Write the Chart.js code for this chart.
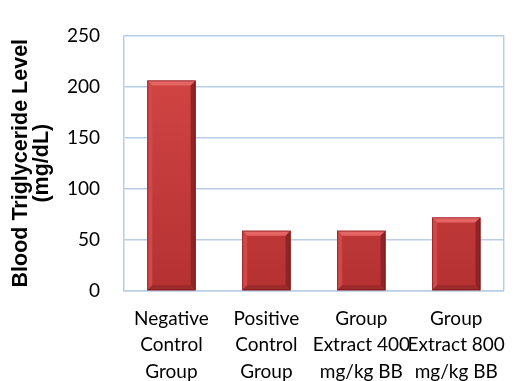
<!DOCTYPE html>
<html>
<head>
<meta charset="utf-8">
<script src="https://cdn.jsdelivr.net/npm/chart.js@4/dist/chart.umd.min.js"></script>
<style>
  html, body { margin: 0; padding: 0; background: #ffffff; }
  #wrap { width: 520px; height: 381px; }
</style>
</head>
<body>
<div id="wrap"><canvas id="c" width="520" height="381"></canvas></div>
<script>
// Triglyceride level per treatment group
const categories = [
  ["Negative", "Control", "Group"],
  ["Positive", "Control", "Group"],
  ["Group", "Extract 400", "mg/kg BB"],
  ["Group", "Extract 800", "mg/kg BB"]
];
const triglyceride = [206, 59, 59, 72];
const yTicks = [0, 50, 100, 150, 200, 250];
const yTitle = ["Blood Triglyceride Level", "(mg/dL)"];

const gridBlue = "#b9cde5";

// Bevelled bar faces drawn over each bar element
const bevelPlugin = {
  id: "bevel",
  afterDatasetsDraw(chart) {
    const ctx = chart.ctx;
    const meta = chart.getDatasetMeta(0);
    meta.data.forEach((bar) => {
      const p = bar.getProps(["x", "y", "base", "width"], true);
      const l = p.x - p.width / 2, r = p.x + p.width / 2;
      const t = p.y, b = p.base;
      const e = 5;
      ctx.save();
      // top edge
      ctx.fillStyle = "#e56565";
      ctx.beginPath();
      ctx.moveTo(l, t); ctx.lineTo(r, t); ctx.lineTo(r - e, t + e); ctx.lineTo(l + e, t + e);
      ctx.closePath(); ctx.fill();
      // left edge
      ctx.fillStyle = "#d24747";
      ctx.beginPath();
      ctx.moveTo(l, t); ctx.lineTo(l + e, t + e); ctx.lineTo(l + e, b - e); ctx.lineTo(l, b);
      ctx.closePath(); ctx.fill();
      // right edge
      ctx.fillStyle = "#8f2424";
      ctx.beginPath();
      ctx.moveTo(r, t); ctx.lineTo(r, b); ctx.lineTo(r - e, b - e); ctx.lineTo(r - e, t + e);
      ctx.closePath(); ctx.fill();
      // bottom edge
      ctx.fillStyle = "#9c2a2a";
      ctx.beginPath();
      ctx.moveTo(l, b); ctx.lineTo(l + e, b - e); ctx.lineTo(r - e, b - e); ctx.lineTo(r, b);
      ctx.closePath(); ctx.fill();
      // thin outline
      ctx.strokeStyle = "rgba(110,20,20,0.55)";
      ctx.lineWidth = 1;
      ctx.strokeRect(l + 0.5, t + 0.5, p.width - 1, b - t - 1);
      ctx.restore();
    });
  }
};

// Plot-area frame on the right side
const framePlugin = {
  id: "frame",
  beforeDatasetsDraw(chart) {
    const { ctx, chartArea: a } = chart;
    ctx.save();
    ctx.strokeStyle = gridBlue;
    ctx.lineWidth = 1.5;
    ctx.beginPath();
    ctx.moveTo(a.right, a.top);
    ctx.lineTo(a.right, a.bottom);
    ctx.stroke();
    ctx.restore();
  }
};

new Chart(document.getElementById("c"), {
  type: "bar",
  data: {
    labels: categories,
    datasets: [{
      data: triglyceride,
      backgroundColor(context) {
        const { ctx, chartArea } = context.chart;
        if (!chartArea) return "#c43b3b";
        const g = ctx.createLinearGradient(0, chartArea.top, 0, chartArea.bottom);
        g.addColorStop(0, "#d64747");
        g.addColorStop(1, "#b53232");
        return g;
      },
      borderWidth: 0,
      barPercentage: 0.51,
      categoryPercentage: 1
    }]
  },
  options: {
    responsive: false,
    animation: false,
    events: [],
    layout: { padding: { top: 24, right: 1, left: 0, bottom: 0 } },
    plugins: {
      legend: { display: false },
      tooltip: { enabled: false }
    },
    scales: {
      x: {
        grid: { display: false, drawTicks: false },
        border: { color: gridBlue, width: 1.5 },
        ticks: {
          color: "#000000",
          font: { family: "Lato", size: 19, lineHeight: 1.38 },
          padding: 15,
          maxRotation: 0,
          autoSkip: false
        },
        afterFit(scale) { scale.height = 90; }
      },
      y: {
        min: 0,
        max: 250,
        afterBuildTicks(scale) { scale.ticks = yTicks.map(v => ({ value: v })); },
        grid: { color: gridBlue, lineWidth: 1.5, drawTicks: false },
        border: { color: gridBlue, width: 1.5 },
        ticks: {
          color: "#000000",
          font: { family: "Lato", size: 19 },
          padding: 24
        },
        title: {
          display: true,
          text: yTitle,
          color: "#000000",
          font: { family: "Liberation Sans", size: 21.5, weight: "bold", lineHeight: 1.0 },
          padding: { top: 10, bottom: 0 }
        },
        afterFit(scale) { scale.width = 124; }
      }
    }
  },
  plugins: [framePlugin, bevelPlugin]
});
</script>
</body>
</html>
